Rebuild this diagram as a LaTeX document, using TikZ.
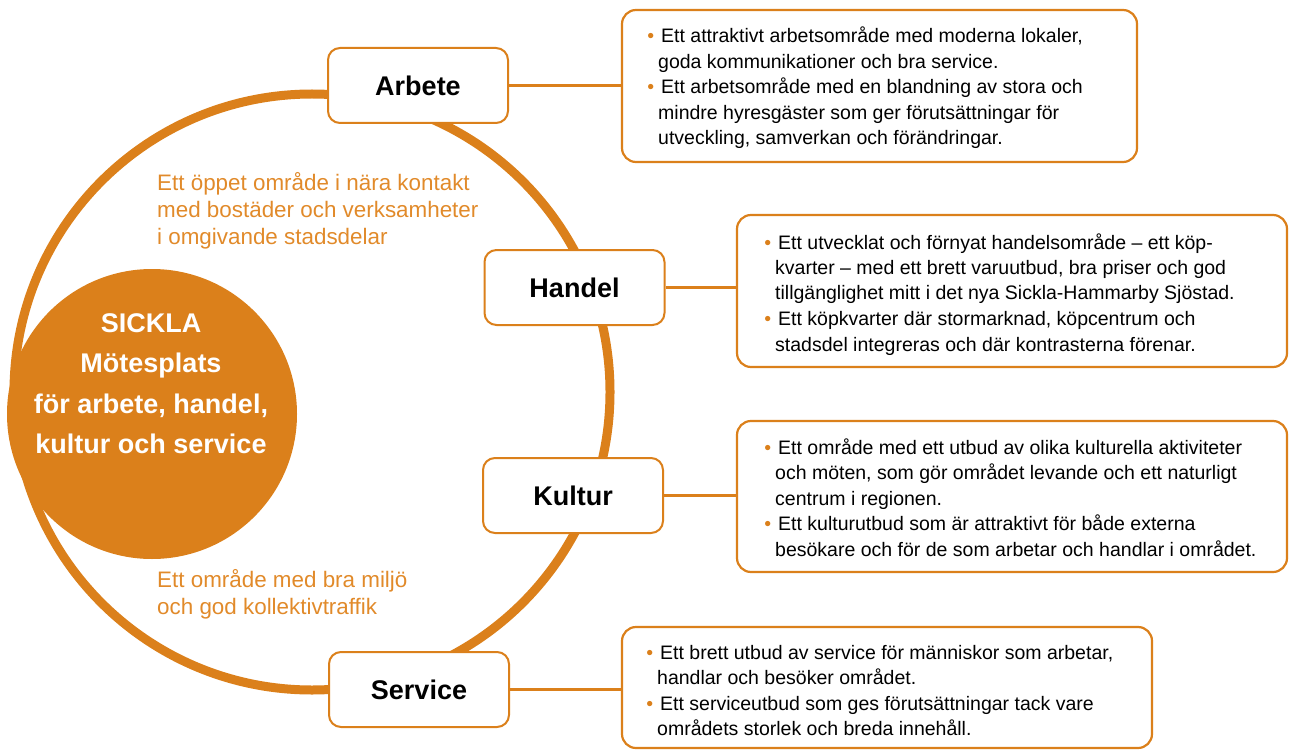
\documentclass[tikz,border=0pt]{standalone}
\usepackage{fontspec}
\setmainfont{Liberation Sans}
\definecolor{sorange}{RGB}{219,128,27}
\definecolor{softorange}{RGB}{225,138,42}
% stacked lines whose reference point is the baseline of the first line
\newcommand{\leftstack}[2]{\vtop{\baselineskip=#1\relax\lineskiplimit=-1000pt\relax\halign{##\hfil\cr#2\crcr}}}
\newcommand{\centerstack}[2]{\vtop{\baselineskip=#1\relax\lineskiplimit=-1000pt\relax\halign{\hfil##\hfil\cr#2\crcr}}}
\newcommand{\bul}{\makebox[0pt][r]{\textcolor{sorange}{•}\hspace{4pt}}\hspace{3pt}}
\begin{document}
\begin{tikzpicture}[x=1pt,y=-1pt,
  ring/.style={draw=sorange, line width=9pt},
  topic/.style={draw=sorange, line width=2pt, rounded corners=12pt, fill=white,
    minimum width=180pt, minimum height=75pt, inner sep=0pt,
    font=\fontsize{27}{32}\selectfont\bfseries},
  infobox/.style={draw=sorange, line width=2.2pt, rounded corners=14pt, fill=white},
  bodytext/.style={anchor=base west, inner sep=0pt, font=\fontsize{19.5}{25.5}\selectfont},
  sidetext/.style={anchor=base west, inner sep=0pt, text=softorange, font=\fontsize{22.4}{27}\selectfont},
  link/.style={draw=sorange, line width=3pt},
]
\useasboundingbox (0,0) rectangle (1289,751);

% outer ring and central disc
\draw[ring] (312,392) circle[radius=298pt];
\node[circle, fill=sorange, minimum size=290pt, inner sep=0pt] (sickla) at (152,414) {};
\node[anchor=base, inner sep=0pt, text=white, font=\fontsize{27}{40}\selectfont\bfseries]
  (sicklatext) at (151,332)
  {\centerstack{40.5pt}{SICKLA\cr Mötesplats\cr för arbete, handel,\cr kultur och service}};

% texts inside the ring
\node[sidetext] (oppet) at (157,191)
  {\leftstack{27pt}{Ett öppet område i nära kontakt\cr med bostäder och verksamheter\cr i omgivande stadsdelar}};
\node[sidetext] (miljo) at (157,587)
  {\leftstack{27pt}{Ett område med bra miljö\cr och god kollektivtraffik}};

% topic boxes on the ring
\node[topic] (arbete) at (418,85.5) {Arbete};
\node[topic] (handel) at (574.5,287.5) {Handel};
\node[topic] (kultur) at (573,495.5) {Kultur};
\node[topic] (service) at (419,689.5) {Service};

% description boxes
\node[infobox, minimum width=515pt, minimum height=152pt] (arbetebox) at (879.5,86) {};
\node[infobox, minimum width=550pt, minimum height=152pt] (handelbox) at (1012,291) {};
\node[infobox, minimum width=550pt, minimum height=151pt] (kulturbox) at (1012,496.5) {};
\node[infobox, minimum width=530pt, minimum height=121pt] (servicebox) at (887,687.5) {};

\node[bodytext] (arbetetext) at (658,43) {\leftstack{25.5pt}{%
  \bul Ett attraktivt arbetsområde med moderna lokaler,\cr
  goda kommunikationer och bra service.\cr
  \bul Ett arbetsområde med en blandning av stora och\cr
  mindre hyresgäster som ger förutsättningar för\cr
  utveckling, samverkan och förändringar.}};
\node[bodytext] (handeltext) at (775,249) {\leftstack{25.5pt}{%
  \bul Ett utvecklat och förnyat handelsområde – ett köp-\cr
  kvarter – med ett brett varuutbud, bra priser och god\cr
  tillgänglighet mitt i det nya Sickla-Hammarby Sjöstad.\cr
  \bul Ett köpkvarter där stormarknad, köpcentrum och\cr
  stadsdel integreras och där kontrasterna förenar.}};
\node[bodytext] (kulturtext) at (775,454) {\leftstack{25.5pt}{%
  \bul Ett område med ett utbud av olika kulturella aktiviteter\cr
  och möten, som gör området levande och ett naturligt\cr
  centrum i regionen.\cr
  \bul Ett kulturutbud som är attraktivt för både externa\cr
  besökare och för de som arbetar och handlar i området.}};
\node[bodytext] (servicetext) at (657,659) {\leftstack{25.5pt}{%
  \bul Ett brett utbud av service för människor som arbetar,\cr
  handlar och besöker området.\cr
  \bul Ett serviceutbud som ges förutsättningar tack vare\cr
  områdets storlek och breda innehåll.}};

% connectors
\draw[link] (arbete.east) -- (arbete.east -| arbetebox.west);
\draw[link] (handel.east) -- (handel.east -| handelbox.west);
\draw[link] (kultur.east) -- (kultur.east -| kulturbox.west);
\draw[link] (service.east) -- (service.east -| servicebox.west);
\end{tikzpicture}
\end{document}
